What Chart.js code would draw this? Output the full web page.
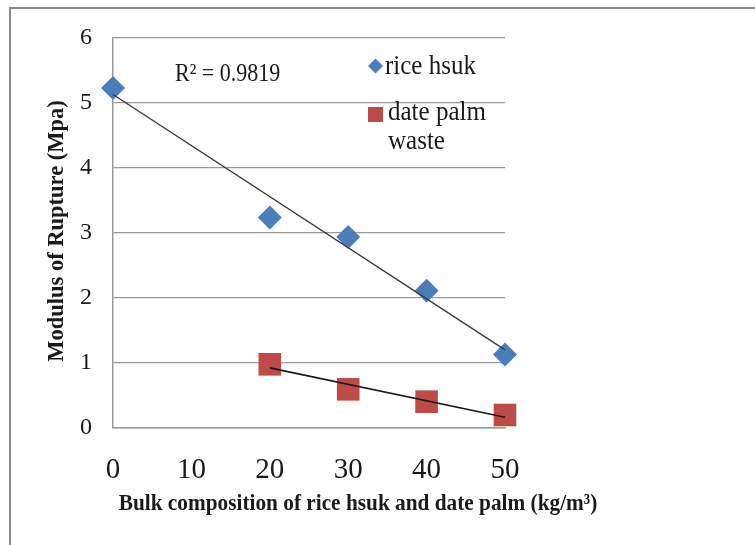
<!DOCTYPE html>
<html>
<head>
<meta charset="utf-8">
<script src="https://cdn.jsdelivr.net/npm/chart.js@4.4.1/dist/chart.umd.min.js"></script>
<style>
  html, body { margin: 0; padding: 0; background: #fff; }
  #wrap { position: relative; width: 755px; height: 545px; }
  #frame { position: absolute; left: 9px; top: 7px; right: -10px; bottom: -10px;
           border-top: 2px solid #8a8a8a; border-left: 2px solid #8a8a8a; }
  canvas { position: absolute; left: 0; top: 0; }
</style>
</head>
<body>
<div id="wrap">
  <div id="frame"></div>
  <canvas id="c" width="755" height="545"></canvas>
</div>
<script>
// Bulk composition (kg/m3) and modulus of rupture (MPa)
const riceX = [0, 20, 30, 40, 50];
const riceY = [5.23, 3.24, 2.94, 2.11, 1.13];
const palmX = [20, 30, 40, 50];
const palmY = [0.98, 0.595, 0.405, 0.2];
const xTicks = [0, 10, 20, 30, 40, 50];
const yTicks = [0, 1, 2, 3, 4, 5, 6];
const seriesNames = ['rice hsuk', 'date palm waste'];
const r2Label = 'R\u00b2 = 0.9819';

const SERIF = '"Liberation Serif", "Times New Roman", serif';
const BLUE = '#4a7ebb';
const RED = '#be4b48';

// least-squares fit, evaluated at the ends of the series
function fitLine(xs, ys) {
  const n = xs.length;
  const mx = xs.reduce((a, b) => a + b, 0) / n;
  const my = ys.reduce((a, b) => a + b, 0) / n;
  let sxy = 0, sxx = 0;
  for (let i = 0; i < n; i++) { sxy += (xs[i] - mx) * (ys[i] - my); sxx += (xs[i] - mx) ** 2; }
  const m = sxy / sxx, b = my - m * mx;
  const x0 = Math.min(...xs), x1 = Math.max(...xs);
  return [{ x: x0, y: m * x0 + b }, { x: x1, y: m * x1 + b }];
}

const pts = (xs, ys) => xs.map((x, i) => ({ x, y: ys[i] }));

// text drawn slightly taller than wide, like the rest of the figure
function tallText(ctx, txt, x, y, sy) {
  ctx.save();
  ctx.translate(x, y);
  ctx.scale(1, sy);
  ctx.fillText(txt, 0, 0);
  ctx.restore();
}

const overlay = {
  id: 'overlay',
  afterDraw(chart) {
    const { ctx } = chart;
    ctx.save();
    ctx.fillStyle = '#1a1a1a';
    ctx.textBaseline = 'middle';

    // trendline label
    ctx.font = '22px ' + SERIF;
    ctx.textAlign = 'left';
    tallText(ctx, r2Label, 175, 75, 1.12);

    // legend
    ctx.font = '25px ' + SERIF;
    ctx.fillStyle = BLUE;
    ctx.beginPath();
    ctx.moveTo(368, 66); ctx.lineTo(375.5, 58.5); ctx.lineTo(383, 66); ctx.lineTo(375.5, 73.5);
    ctx.closePath(); ctx.fill();
    ctx.fillStyle = RED;
    ctx.fillRect(368, 107, 15, 15);
    ctx.fillStyle = '#1a1a1a';
    tallText(ctx, 'rice hsuk', 385, 67, 1.1);
    tallText(ctx, 'date palm', 388, 113, 1.1);
    tallText(ctx, 'waste', 388, 142, 1.1);

    // axis titles
    ctx.font = 'bold 21.3px ' + SERIF;
    ctx.textAlign = 'center';
    tallText(ctx, 'Bulk composition of rice hsuk and date palm (kg/m\u00b3)', 358, 504, 1.08);
    ctx.translate(57, 231);
    ctx.rotate(-Math.PI / 2);
    ctx.font = 'bold 22.5px ' + SERIF;
    ctx.fillText('Modulus of Rupture (Mpa)', 0, 0);
    ctx.restore();
  }
};

new Chart(document.getElementById('c'), {
  type: 'scatter',
  data: {
    datasets: [
      { label: seriesNames[0] + ' fit', data: fitLine(riceX, riceY), showLine: true, clip: false,
        borderColor: '#3a3a3a', borderWidth: 1.4, pointRadius: 0, order: 0 },
      { label: seriesNames[1] + ' fit', data: fitLine(palmX, palmY), showLine: true, clip: false,
        borderColor: '#1a1a1a', borderWidth: 1.6, pointRadius: 0, order: 0 },
      { label: seriesNames[0], data: pts(riceX, riceY), pointStyle: 'rectRot', clip: false,
        pointRadius: 12, backgroundColor: BLUE, borderColor: BLUE, borderWidth: 0, order: 1 },
      { label: seriesNames[1], data: pts(palmX, palmY), pointStyle: 'rect', clip: false,
        pointRadius: 16, backgroundColor: RED, borderColor: RED, borderWidth: 0, order: 1 }
    ]
  },
  options: {
    responsive: false,
    animation: false,
    devicePixelRatio: 1,
    layout: { padding: { left: 0, right: 250, top: 38, bottom: 0 } },
    plugins: { legend: { display: false }, tooltip: { enabled: false } },
    scales: {
      x: {
        type: 'linear', min: 0, max: 50,
        afterBuildTicks: s => { s.ticks = xTicks.map(v => ({ value: v })); },
        afterFit: s => { s.height = 117; },
        grid: { display: false, drawTicks: false },
        border: { display: true, color: '#999', width: 1.5 },
        ticks: { padding: 25, color: '#1a1a1a', font: { family: SERIF, size: 29 } }
      },
      y: {
        type: 'linear', min: 0, max: 6,
        afterBuildTicks: s => { s.ticks = yTicks.map(v => ({ value: v })); },
        afterFit: s => { s.width = 113; },
        grid: { color: '#999', lineWidth: 1.3, drawTicks: false },
        border: { display: true, color: '#999', width: 1.5 },
        ticks: { padding: 21, color: '#1a1a1a', font: { family: SERIF, size: 24 } }
      }
    }
  },
  plugins: [overlay]
});
</script>
</body>
</html>
